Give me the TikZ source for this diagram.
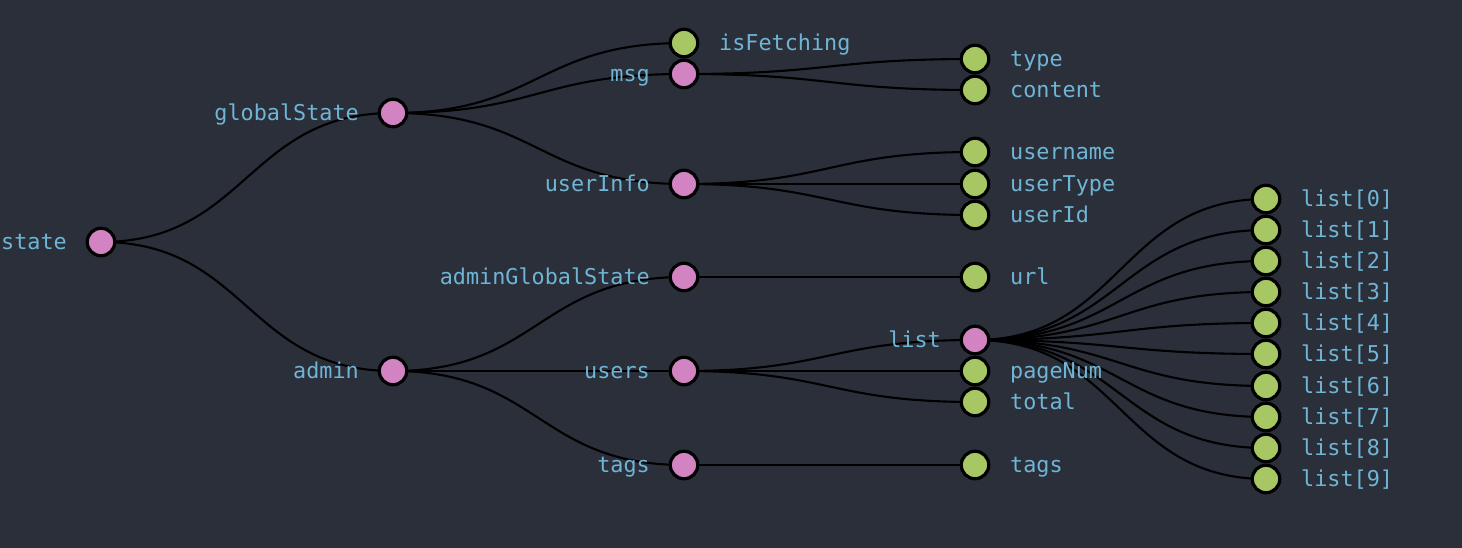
\documentclass[tikz,border=0pt]{standalone}
\usepackage{fontspec}
\newfontfamily\monofont{DejaVu Sans Mono}
\usetikzlibrary{calc}
\pgfdeclarelayer{background}
\pgfsetlayers{background,main}
\definecolor{bgc}{HTML}{2B2F3A}
\definecolor{pinkc}{HTML}{D283C1}
\definecolor{greenc}{HTML}{A6C764}
\definecolor{txtc}{HTML}{6EB5D6}
\tikzset{
  x=1pt, y=-1pt,
  circ/.style={shape=circle, draw=black, line width=3.2pt, minimum width=27.5pt, minimum height=27.5pt, inner sep=0pt, outer sep=0pt},
  pnode/.style={circ, fill=pinkc},
  gnode/.style={circ, fill=greenc},
  ltxt/.style={inner sep=0pt, text=txtc, font=\monofont\fontsize{21.8pt}{24pt}\selectfont},
  llab/.style={ltxt, anchor=base east},
  rlab/.style={ltxt, anchor=base west},
  link/.style={draw=black, line width=2.1pt},
}
\newcommand\inode[4]{% name, x, y, text
  \node[pnode] (#1) at (#2,#3) {};
  \node[llab] (#1-t) at ($(#1)+(-34,7.6)$) {#4};}
\newcommand\lnode[4]{%
  \node[gnode] (#1) at (#2,#3) {};
  \node[rlab] (#1-t) at ($(#1)+(35,7.6)$) {#4};}
\newcommand\lk[2]{\path[link] (#1.center) .. controls +(145.5,0) and +(-145.5,0) .. (#2.center);}
\begin{document}
\begin{tikzpicture}
\begin{pgfonlayer}{background}
\fill[bgc] (0,0) rectangle (1462,548);
\end{pgfonlayer}
\useasboundingbox (0,0) rectangle (1462,548);
% depth 0
\inode{state}{101}{242}{state}
% depth 1
\inode{global}{393}{113}{globalState}
\inode{admin}{393}{371}{admin}
% depth 2
\lnode{isfetch}{684}{43}{isFetching}
\inode{msg}{684}{74}{msg}
\inode{userinfo}{684}{184}{userInfo}
\inode{agstate}{684}{277}{adminGlobalState}
\inode{users}{684}{371}{users}
\inode{tagsa}{684}{465}{tags}
% depth 3
\lnode{type}{975}{59}{type}
\lnode{content}{975}{90}{content}
\lnode{username}{975}{152}{username}
\lnode{usertype}{975}{184}{userType}
\lnode{userid}{975}{215}{userId}
\lnode{url}{975}{277}{url}
\inode{list}{975}{340}{list}
\lnode{pagenum}{975}{371}{pageNum}
\lnode{total}{975}{402}{total}
\lnode{tagsb}{975}{465}{tags}
% depth 4
\lnode{l0}{1266}{199}{list[0]}
\lnode{l1}{1266}{230}{list[1]}
\lnode{l2}{1266}{261}{list[2]}
\lnode{l3}{1266}{292}{list[3]}
\lnode{l4}{1266}{323}{list[4]}
\lnode{l5}{1266}{354}{list[5]}
\lnode{l6}{1266}{386}{list[6]}
\lnode{l7}{1266}{417}{list[7]}
\lnode{l8}{1266}{448}{list[8]}
\lnode{l9}{1266}{479}{list[9]}
\begin{pgfonlayer}{background}
\lk{state}{global}
\lk{state}{admin}
\lk{global}{isfetch}
\lk{global}{msg}
\lk{global}{userinfo}
\lk{admin}{agstate}
\lk{admin}{users}
\lk{admin}{tagsa}
\lk{msg}{type}
\lk{msg}{content}
\lk{userinfo}{username}
\lk{userinfo}{usertype}
\lk{userinfo}{userid}
\lk{agstate}{url}
\lk{users}{list}
\lk{users}{pagenum}
\lk{users}{total}
\lk{tagsa}{tagsb}
\lk{list}{l0}
\lk{list}{l1}
\lk{list}{l2}
\lk{list}{l3}
\lk{list}{l4}
\lk{list}{l5}
\lk{list}{l6}
\lk{list}{l7}
\lk{list}{l8}
\lk{list}{l9}
\end{pgfonlayer}
\end{tikzpicture}
\end{document}
